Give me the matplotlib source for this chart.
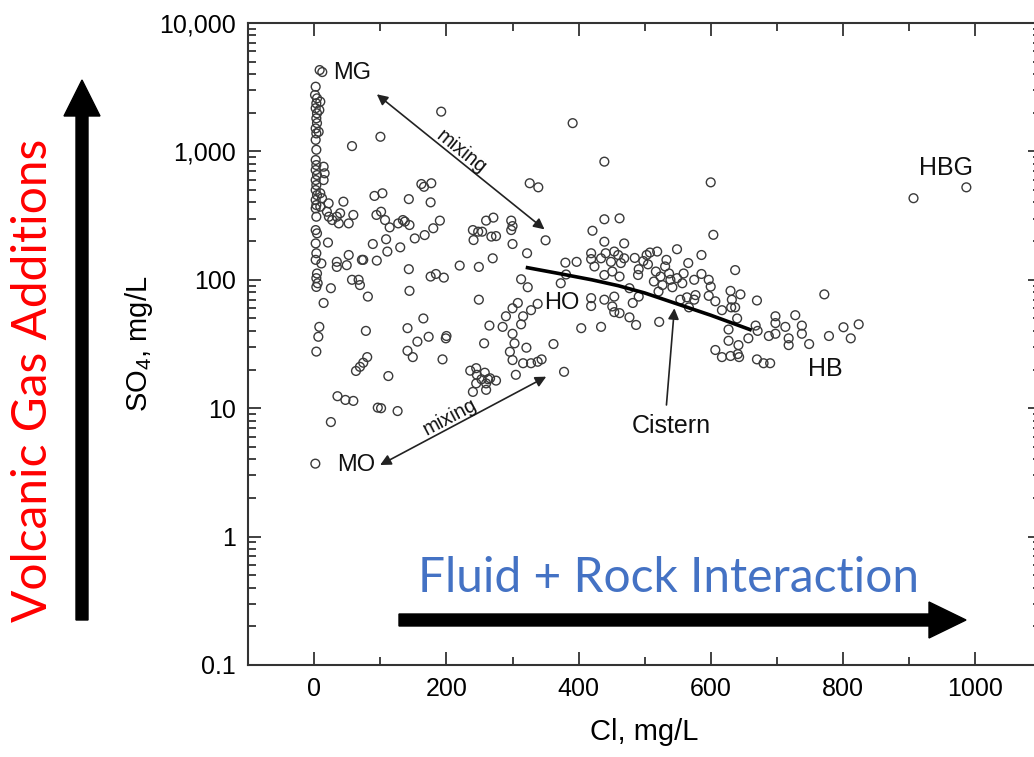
import matplotlib
matplotlib.use('Agg')
import matplotlib.pyplot as plt
from matplotlib.patches import FancyArrow
from matplotlib.transforms import IdentityTransform
from matplotlib.ticker import FixedLocator, LogLocator, NullFormatter

plt.rcParams['font.family'] = ['Liberation Sans', 'DejaVu Sans']
plt.rcParams['mathtext.fontset'] = 'custom'
plt.rcParams['mathtext.rm'] = 'Liberation Sans'
plt.rcParams['mathtext.it'] = 'Liberation Sans:italic'
plt.rcParams['mathtext.default'] = 'regular'

# ---------------- data (Cl mg/L, SO4 mg/L) ----------------
near_zero = [(8, 4300), (12, 4150), (2, 3190), (1, 2750), (4, 2590), (3, 2370), (2, 2170),
             (4, 1980), (3, 1810), (4, 1660), (2, 1510), (3, 1380), (2, 1230), (3, 1030),
             (2, 857), (3, 783), (2, 716), (4, 655), (2, 598), (3, 547), (2, 500), (4, 457),
             (2, 418), (3, 382), (2, 360), (3, 310), (2, 244), (4, 230), (2, 192), (3, 161),
             (2, 143), (4, 112), (3, 103), (5, 94), (3, 88), (9, 2440), (7.5, 2100), (6.5, 1420),
             (14, 760), (15.5, 675), (14, 598), (9, 472), (11.6, 432), (9, 371), (14, 66),
             (7.5, 43), (6, 36), (3, 27.6), (1.5, 3.7)]

low_cl = [(21.6, 394), (44, 406), (19, 339), (22, 310), (27, 292), (34, 310), (37, 275),
          (39, 330), (52, 275), (59, 320), (20.6, 195), (10.6, 134), (34, 138), (34, 126),
          (49, 130), (52, 156), (72, 143), (57, 100), (67, 100), (69, 91), (57, 1100), (25, 86),
          (35, 12.4), (47, 11.6), (59, 11.4), (25, 7.8), (100, 1300), (192, 2040), (162, 557),
          (166, 530), (177, 565), (91, 450), (103, 472), (143, 425), (176, 401), (94, 320),
          (101, 339), (107, 292), (114, 256), (127, 275), (134, 292), (137, 284), (144, 267),
          (152, 210), (167, 223), (180, 252), (190, 289), (88.5, 190), (108.6, 207),
          (110.5, 166), (130, 179), (74, 143), (94.5, 141), (81, 74), (143, 121), (144, 82),
          (176, 106), (184, 111), (196, 104), (165, 50), (141, 42), (173, 36), (199, 35),
          (200, 36.5), (156, 33), (141, 28), (149, 25), (194, 24), (78, 40), (80, 25),
          (74, 22.6), (69, 21), (63, 19.5), (112, 17.8), (96, 10.1), (101, 10.0), (126, 9.5)]

mid_cl = [(391, 1660), (439, 832), (326, 565), (339, 525), (220, 129), (249, 126), (270, 147),
          (241, 204), (248, 237), (240, 244), (254, 237), (260, 289), (271, 305), (268, 217),
          (275, 219), (249, 70), (265, 44), (257, 32), (236, 19.6), (245, 20.5), (258, 18.9),
          (246, 18.2), (253, 16.8), (263, 16.8), (275, 16.4), (245, 15.6), (260, 15.6),
          (240, 13.4), (260, 13.9), (266, 17.1), (298, 289), (298, 244), (300, 190), (300, 262),
          (322, 161), (350, 203), (313, 101), (323, 87.5), (308, 66), (300, 60), (290, 52),
          (285, 43), (316, 52), (328, 58), (338, 65), (313, 45), (300, 38), (303, 32),
          (321, 29.6), (296, 27.5), (300, 23.7), (316, 22.4), (328, 22.4), (338, 23), (344, 24),
          (362, 31.6), (378, 19.2), (305, 18.2)]

ho_cluster = [(439, 296), (462, 301), (421, 241), (439, 198), (469, 192), (549, 173), (380, 136),
              (397, 138), (419, 161), (419, 145), (424, 127), (434, 147), (441, 161), (449, 138),
              (454, 166), (460, 156), (464, 135), (469, 147), (439, 109), (451, 116), (462, 106),
              (491, 121), (490, 109), (503, 156), (508, 163), (519, 166), (533, 143), (531, 127),
              (517, 116), (524, 106), (537, 112), (539, 100), (549, 103), (557, 94), (542, 87.5),
              (527, 91), (521, 81), (514, 97), (477, 86), (491, 74), (482, 66), (454, 74),
              (451, 62), (419, 72), (419, 62.5), (439, 70), (454, 56), (462, 55), (477, 51),
              (487, 44.5), (404, 42), (434, 43), (522, 47), (381, 110), (373, 94), (498, 140),
              (505, 132), (485, 148)]

hb_cluster = [(604, 224), (586, 156), (566, 135), (637, 119), (559, 112), (575, 100), (586, 111),
              (597, 100), (600, 88.5), (554, 70), (564, 73), (575, 70), (577, 76), (567, 61),
              (597, 75), (607, 68), (617, 58), (630, 82), (632, 70), (631, 61), (637, 61),
              (645, 77), (640, 50), (627, 41), (627, 33.5), (642, 31), (657, 35), (670, 69),
              (668, 44), (671, 40), (688, 36.5), (698, 52), (698, 46), (698, 38), (713, 43),
              (718, 35), (718, 31), (728, 53), (738, 44), (738, 38), (749, 31.6), (772, 77),
              (779, 36.5), (801, 42.7), (812, 35), (824, 45), (607, 28.4), (617, 25), (630, 25.5),
              (641, 26.4), (643, 25), (670, 24), (680, 22.4), (690, 22.4), (600, 574)]

hbg = [(907, 432), (987, 525)]

cistern_cl = [320, 370, 420, 460, 500, 545, 600, 662]
cistern_so4 = [125, 112, 100, 90, 79, 66, 53, 40.5]

x_ticks = [0, 200, 400, 600, 800, 1000]
y_ticks = [0.1, 1, 10, 100, 1000, 10000]
y_tick_labels = ['0.1', '1', '10', '100', '1,000', '10,000']

# ---------------- figure ----------------
W, H = 1034, 757
fig = plt.figure(figsize=(W / 100, H / 100), dpi=100)
ax = fig.add_axes([248.3 / W, 1 - 665 / H, (1041 - 248.3) / W, 642 / H])

all_pts = near_zero + low_cl + mid_cl + ho_cluster + hb_cluster + hbg
cl = [p[0] for p in all_pts]
so4 = [p[1] for p in all_pts]
ax.scatter(cl, so4, s=40, facecolors='none', edgecolors='#3a3a3a', linewidths=1.0, zorder=3)

ax.plot(cistern_cl, cistern_so4, color='black', lw=2.6, zorder=4, solid_capstyle='butt')

ax.set_yscale('log')
ax.set_xlim(-100, 1100)
ax.set_ylim(0.1, 10000)
ax.xaxis.set_major_locator(FixedLocator(x_ticks))
ax.xaxis.set_minor_locator(FixedLocator([100, 300, 500, 700, 900]))
ax.set_xticklabels([str(t) for t in x_ticks])
ax.yaxis.set_major_locator(FixedLocator(y_ticks))
ax.set_yticklabels(y_tick_labels)
ax.yaxis.set_minor_locator(LogLocator(base=10, subs=range(2, 10)))
ax.yaxis.set_minor_formatter(NullFormatter())

for s in ax.spines.values():
    s.set_linewidth(1.5)
    s.set_color('#333333')
ax.tick_params(which='both', direction='in', top=True, right=True, color='#333333', width=1.3)
ax.tick_params(which='major', length=9.5, labelsize=18, pad=9)
ax.tick_params(which='minor', length=5.5)

ax.set_xlabel('Cl, mg/L', fontsize=21, labelpad=12)
ax.set_ylabel('SO$_4$, mg/L', fontsize=21, labelpad=3)

# labels
lab = dict(fontsize=17, va='center', ha='left', color='#111111')
ax.text(29, 4080, 'MG', **lab)
ax.text(348, 66, 'HO', **lab)
ax.text(35, 3.6, 'MO', **lab)
ax.text(748, 20.2, 'HB', fontsize=18, va='center', ha='left', color='#111111')
ax.text(915, 743, 'HBG', fontsize=18, va='center', ha='left', color='#111111')
ax.text(540, 7.3, 'Cistern', fontsize=18, ha='center', va='center', color='#111111')

arr = dict(arrowstyle='<|-|>', color='#222222', lw=1.2, mutation_scale=16, shrinkA=0, shrinkB=0)
ax.annotate('', xy=(94.6, 2785), xytext=(348.4, 247), arrowprops=arr)
ax.annotate('', xy=(99.5, 3.61), xytext=(351, 17.6), arrowprops=arr)
ax.annotate('', xy=(545, 60), xytext=(533, 10.6),
            arrowprops=dict(arrowstyle='-|>', color='#222222', lw=1.2, mutation_scale=16,
                            shrinkA=0, shrinkB=0))
ax.text(222, 985, 'mixing', fontsize=14.5, rotation=-38.8, ha='center', va='center',
        rotation_mode='anchor', color='#111111')
ax.text(205, 8.6, 'mixing', fontsize=14.5, rotation=27.9, ha='center', va='center',
        rotation_mode='anchor', color='#111111')

# big overlay arrows (pixel coordinates)
fig.add_artist(FancyArrow(82, H - 620, 0, 540, width=12, head_width=36, head_length=36,
                          length_includes_head=True, color='black',
                          transform=IdentityTransform()))
fig.add_artist(FancyArrow(399, H - 620, 567, 0, width=12, head_width=36, head_length=37,
                          length_includes_head=True, color='black',
                          transform=IdentityTransform()))
fig.text(33 / W, 1 - 380 / H, 'Volcanic Gas Additions', rotation=90, ha='center', va='center',
         fontsize=34.5, color='#ff0000', family=['Lato', 'DejaVu Sans'])
fig.text(669 / W, 1 - 578 / H, 'Fluid + Rock Interaction', ha='center', va='center',
         fontsize=34.5, color='#4472c4', family=['Lato', 'DejaVu Sans'])

fig.savefig('out.png', dpi=100)
